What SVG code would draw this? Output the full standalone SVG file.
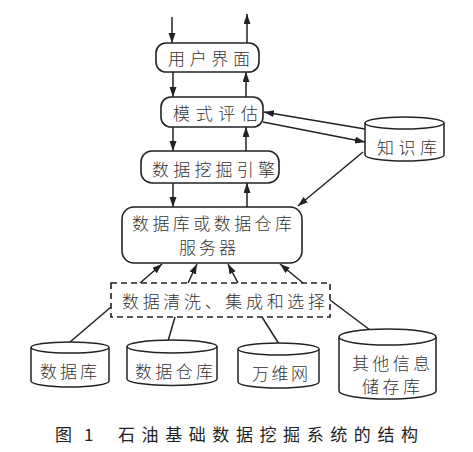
<svg xmlns="http://www.w3.org/2000/svg" width="473" height="452" viewBox="0 0 473 452">
<style>
.box{fill:#fff;stroke:#222;stroke-width:1.6}
.dash{fill:#fff;stroke:#222;stroke-width:1.6;stroke-dasharray:6,4}
.cyl{fill:#fff;stroke:#222;stroke-width:1.5}
.ln{stroke:#222;stroke-width:1.5;fill:none}
.ar{stroke:#222;stroke-width:1.5;fill:none;marker-end:url(#ah)}
text{font-family:"Noto Sans CJK SC","Noto Sans",sans-serif;font-size:17px;fill:#333;dominant-baseline:central;font-weight:300}
.cap{font-size:17px;fill:#222;font-weight:400}
</style>
<defs>
<marker id="ah" markerWidth="11" markerHeight="8" refX="10" refY="3.5" orient="auto" markerUnits="userSpaceOnUse">
<path d="M0,0 L10,3.5 L0,7 z" fill="#222"/>
</marker>
</defs>
<rect width="473" height="452" fill="#fff"/>
<g id="connectors">
<line class="ar" x1="172" y1="17" x2="172" y2="43"/>
<line class="ar" x1="247" y1="43" x2="247" y2="14"/>
<line class="ar" x1="173" y1="72" x2="173" y2="97"/>
<line class="ar" x1="246" y1="97" x2="246" y2="72"/>
<line class="ar" x1="173" y1="127" x2="173" y2="151"/>
<line class="ar" x1="246" y1="151" x2="246" y2="127"/>
<line class="ar" x1="173" y1="183" x2="173" y2="207"/>
<line class="ar" x1="247" y1="207" x2="247" y2="183"/>
<line class="ar" x1="365" y1="129" x2="264" y2="112"/>
<line class="ar" x1="263" y1="122" x2="365" y2="142"/>
<line class="ar" x1="363" y1="152" x2="298" y2="206"/>
<line class="ar" x1="140" y1="283" x2="162" y2="264"/>
<line class="ar" x1="188" y1="283" x2="197" y2="264"/>
<line class="ar" x1="238" y1="283" x2="228" y2="264"/>
<line class="ar" x1="303" y1="283" x2="280" y2="264"/>
<line class="ln" x1="70" y1="342" x2="111" y2="307"/>
<line class="ln" x1="168" y1="341" x2="175" y2="317"/>
<line class="ln" x1="279" y1="344" x2="262" y2="317"/>
<line class="ln" x1="370" y1="330" x2="330" y2="300"/>
</g>
<g id="ui">
<rect class="box" x="156" y="43" width="103" height="29" rx="10"/>
<text x="168" y="57.5" textLength="82" lengthAdjust="spacing">用户界面</text>
</g>
<g id="eval">
<rect class="box" x="161" y="97" width="102" height="30" rx="10"/>
<text x="173" y="112" textLength="85" lengthAdjust="spacing">模式评估</text>
</g>
<g id="engine">
<rect class="box" x="141" y="151" width="138" height="32" rx="11"/>
<text x="152" y="168" textLength="123" lengthAdjust="spacing">数据挖掘引擎</text>
</g>
<g id="server">
<rect class="box" x="122" y="207" width="180" height="56" rx="12"/>
<text x="132" y="222" textLength="160" lengthAdjust="spacing">数据库或数据仓库</text>
<text x="179" y="246" textLength="57" lengthAdjust="spacing">服务器</text>
</g>
<g id="clean">
<rect class="dash" x="111" y="283" width="219" height="34"/>
<text x="122" y="300" textLength="203" lengthAdjust="spacing">数据清洗、集成和选择</text>
</g>
<g id="kb">
<path class="cyl" d="M365,123 V155 A39.5,6 0 0 0 444,155 V123"/>
<ellipse class="cyl" cx="404.5" cy="123" rx="39.5" ry="6"/>
<text x="377" y="146" textLength="60" lengthAdjust="spacing">知识库</text>
</g>
<g id="db">
<path class="cyl" d="M31,347.5 V381 A39,6 0 0 0 109,381 V347.5"/>
<ellipse class="cyl" cx="70" cy="347.5" rx="39" ry="5.5"/>
<text x="40" y="370" textLength="57" lengthAdjust="spacing">数据库</text>
</g>
<g id="dw">
<path class="cyl" d="M127,346.5 V379 A45,6.5 0 0 0 217,379 V346.5"/>
<ellipse class="cyl" cx="172" cy="346.5" rx="45" ry="6.5"/>
<text x="135" y="370" textLength="78" lengthAdjust="spacing">数据仓库</text>
</g>
<g id="www">
<path class="cyl" d="M238,349 V382 A40.5,6 0 0 0 319,382 V349"/>
<ellipse class="cyl" cx="278.5" cy="349" rx="40.5" ry="6"/>
<text x="252" y="372" textLength="56" lengthAdjust="spacing">万维网</text>
</g>
<g id="other">
<path class="cyl" d="M339,337 V391 A48.5,8 0 0 0 436,391 V337"/>
<ellipse class="cyl" cx="387.5" cy="337" rx="48.5" ry="8"/>
<text x="352" y="362" textLength="78" lengthAdjust="spacing">其他信息</text>
<text x="362" y="385" textLength="58" lengthAdjust="spacing">储存库</text>
</g>
<g id="caption">
<text class="cap" x="55" y="433">图</text>
<text class="cap" x="84" y="433" font-family="Liberation Serif,serif">1</text>
<text class="cap" x="118" y="433" textLength="300" lengthAdjust="spacing">石油基础数据挖掘系统的结构</text>
</g>
</svg>
